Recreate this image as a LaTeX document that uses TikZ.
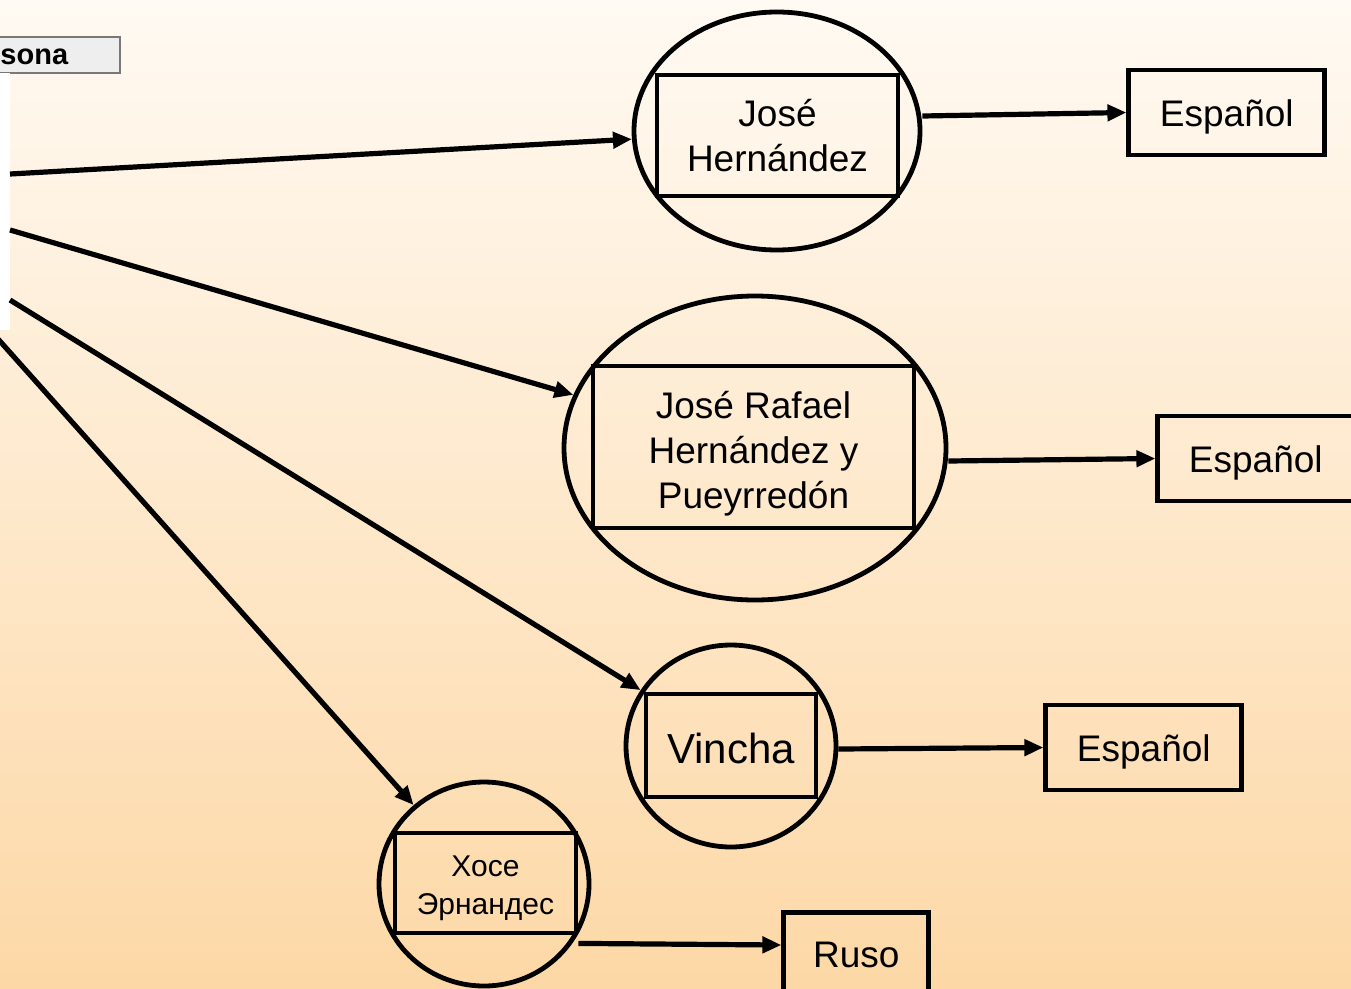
\documentclass[tikz,border=0pt]{standalone}
\usepackage{fontspec}
\setmainfont{Liberation Sans}
\usetikzlibrary{arrows.meta,shapes.geometric,positioning,calc}
\definecolor{bgtop}{RGB}{255,250,243}
\definecolor{bgbottom}{RGB}{253,216,166}
\definecolor{tabgray}{RGB}{238,238,238}
\definecolor{tabline}{RGB}{120,120,120}

\begin{document}
\begin{tikzpicture}[
    x=1pt, y=-1pt,
    oval/.style={ellipse, draw, line width=4.8pt, inner sep=0pt},
    namebox/.style={rectangle, draw, line width=4.8pt, align=center, inner sep=0pt, font=\fontsize{37}{45}\selectfont},
    langbox/.style={rectangle, draw, line width=4.8pt, minimum width=196pt, minimum height=85pt, inner sep=0pt, font=\fontsize{37}{45}\selectfont},
    tabhead/.style={rectangle, draw=tabline, fill=tabgray, line width=1.5pt, align=left, font=\bfseries\fontsize{29}{33}\selectfont},
    link/.style={line width=5.2pt, -{Triangle[length=19pt,width=16pt]}}
]
    \useasboundingbox (0,0) rectangle (1351,988);
    \clip (0,0) rectangle (1351,988);
    \shade[top color=bgtop, bottom color=bgbottom] (0,0) rectangle (1351,988);

    % Persona table (cut at the left edge)
    \node[tabhead, anchor=west, inner xsep=12pt, text width=154pt, minimum height=36pt] (persona) at (-59,55) {Persona};
    \fill[white] (-10,73) rectangle (10,330);
    \coordinate (p1) at (10,174);
    \coordinate (p2) at (10,230);
    \coordinate (p3) at (10,300);
    \coordinate (p4) at (-10,330);

    % Names
    \node[oval, minimum width=286pt, minimum height=238pt] (jose) at (777,131) {};
    \node[namebox, minimum width=241pt, minimum height=121pt] (joseName) at (777.5,135.5) {José\\Hernández};

    \node[oval, minimum width=382pt, minimum height=304pt] (rafael) at (755,448) {};
    \node[namebox, minimum width=321pt, minimum height=162pt] (rafaelName) at (753.5,447) {\rule{0pt}{40pt}José Rafael\\Hernández y\\Pueyrredón};

    \node[oval, minimum width=210pt, minimum height=202pt] (vincha) at (731,746) {};
    \node[namebox, minimum width=170pt, minimum height=103pt, font=\fontsize{42}{48}\selectfont] (vinchaName) at (731,745.5) {\rule{0pt}{36pt}Vincha};

    \node[oval, minimum width=210pt, minimum height=204pt] (xoce) at (484,884) {};
    \node[namebox, minimum width=181pt, minimum height=100pt, font=\fontsize{30}{38}\selectfont] (xoceName) at (485.5,883) {\rule{0pt}{32pt}Хосе\\Эрнандес};

    % Languages
    \node[langbox, right=204pt of jose, yshift=18.5pt] (esp1) {\rule{0pt}{35pt}Español};
    \node[langbox, right=207pt of rafael, yshift=-10.5pt] (esp2) {\rule{0pt}{35pt}Español};
    \node[langbox, right=205pt of vincha, yshift=-1.5pt] (esp3) {\rule{0pt}{35pt}Español};
    \node[langbox, minimum width=145pt, right=190pt of xoce, yshift=-71pt] (ruso) {Ruso};

    \draw[link] (p1) -- (jose);
    \draw[link] (p2) -- (rafael);
    \draw[link] (p3) -- (vincha);
    \draw[link] (p4) -- (xoce);
    \draw[link] ([yshift=15pt]jose.east) -- (esp1.west);
    \draw[link] ([yshift=-13pt]rafael.east) -- (esp2.west);
    \draw[link] ([yshift=-3pt]vincha.east) -- (esp3.west);
    \draw[link] ([yshift=-8pt]xoceName.south east) -- ([yshift=10pt]ruso.west);
\end{tikzpicture}
\end{document}
